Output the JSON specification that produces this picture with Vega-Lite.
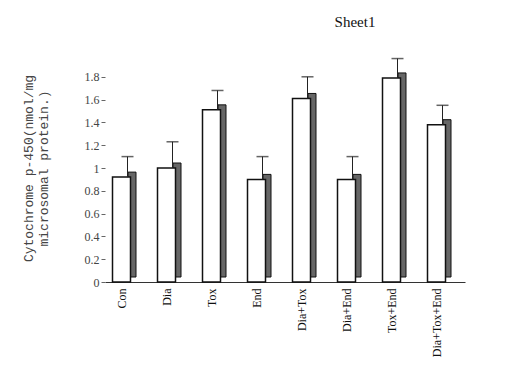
{
  "$schema": "https://vega.github.io/schema/vega-lite/v6.json",
  "autosize": "none",
  "padding": {"left": 105, "top": 54, "right": 43, "bottom": 97},
  "width": 360,
  "height": 228,
  "background": "white",
  "config": {
    "font": "Liberation Serif",
    "view": {"stroke": null},
    "axis": {"labelOverlap": false}
  },
  "title": {"text": "Sheet1", "fontSize": 15, "fontWeight": "normal", "font": "Liberation Serif", "dx": 70, "offset": 24, "color": "#111"},
  "data": {
    "values": [
      {"group": "Con", "value": 0.92, "upper": 1.1},
      {"group": "Dia", "value": 1.0, "upper": 1.23},
      {"group": "Tox", "value": 1.51, "upper": 1.68},
      {"group": "End", "value": 0.9, "upper": 1.1},
      {"group": "Dia+Tox", "value": 1.61, "upper": 1.8},
      {"group": "Dia+End", "value": 0.9, "upper": 1.1},
      {"group": "Tox+End", "value": 1.79, "upper": 1.96},
      {"group": "Dia+Tox+End", "value": 1.38, "upper": 1.55}
    ]
  },
  "encoding": {
    "x": {
      "field": "group", "type": "nominal", "sort": null,
      "scale": {"paddingInner": 0, "paddingOuter": 0},
      "axis": {"title": null, "labelAngle": -90, "labelFontSize": 12, "labelColor": "#111", "labelOffset": -6, "ticks": false, "domainColor": "#333", "labelPadding": 6}
    },
    "y": {"field": "value", "type": "quantitative",
      "scale": {"domain": [0, 2]},
      "axis": {"values": [0, 0.2, 0.4, 0.6, 0.8, 1, 1.2, 1.4, 1.6, 1.8], "format": "~g", "grid": false,
        "title": ["Cytochrome p-450(nmol/mg", "microsomal protein.)"],
        "titleFont": "Liberation Mono", "titleFontSize": 13, "titleFontWeight": "normal", "titleColor": "#444", "titlePadding": 34,
        "labelFontSize": 12, "labelColor": "#444", "tickSize": 4, "domain": false, "tickColor": "#666"}}
  },
  "layer": [
    {
      "mark": {"type": "bar", "width": 8, "xOffset": 4.5, "yOffset": -5, "y2Offset": -5, "fill": "#666666", "stroke": "#111", "strokeWidth": 1}
    },
    {
      "mark": {"type": "bar", "width": 18, "xOffset": -6, "fill": "white", "stroke": "#111", "strokeWidth": 1.5}
    },
    {
      "mark": {"type": "rule", "color": "#222", "strokeWidth": 1},
      "encoding": {"y2": {"field": "upper"}}
    },
    {
      "mark": {"type": "tick", "orient": "horizontal", "size": 12, "color": "#222", "thickness": 1.5},
      "encoding": {"y": {"field": "upper", "type": "quantitative"}}
    }
  ]
}
